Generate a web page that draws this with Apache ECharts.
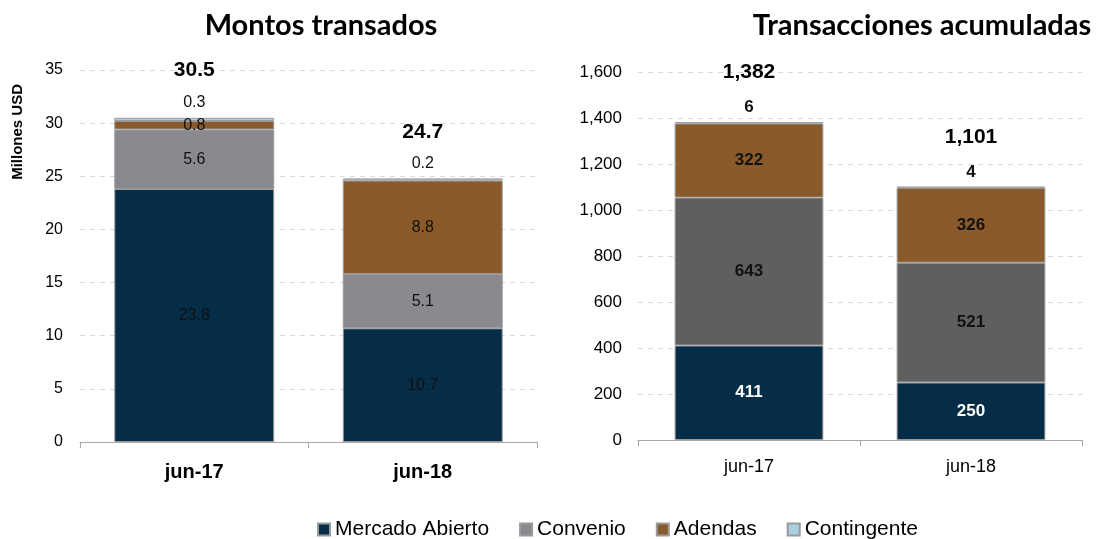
<!DOCTYPE html>
<html>
<head>
<meta charset="utf-8">
<script src="https://cdn.jsdelivr.net/npm/echarts@6/dist/echarts.min.js"></script>
<style>
  html, body { margin: 0; padding: 0; background: #fff; }
  #chart { width: 1103px; height: 539px; }
</style>
</head>
<body>
<div id="chart"></div>
<script>
// data
const categories = ['jun-17', 'jun-18']
const seriesNames = ['Mercado Abierto', 'Convenio', 'Adendas', 'Contingente']

// Montos transados (millones USD)
const montoMercado = [23.8, 10.7]
const montoConvenio = [5.6, 5.1]
const montoAdendas = [0.8, 8.8]
const montoContingente = [0.3, 0.2]
const montoTotal = [30.5, 24.7]

// Transacciones acumuladas
const transMercado = [411, 250]
const transConvenio = [643, 521]
const transAdendas = [322, 326]
const transContingente = [6, 4]
const transTotal = [1382, 1101]

const narrow = '"Liberation Sans Narrow", "Liberation Sans", Arial, sans-serif'
const colors = {
  mercado: '#062d48',
  convenioL: '#8a8a8e',
  convenioR: '#5f5f60',
  adendas: '#8a5a2b',
  contingente: '#a9d0e2',
}

function fmt(v) {
  return v.toLocaleString('en-US')
}

function stackBar(name, data, idx, color, label) {
  return {
    name,
    type: 'bar',
    stack: 's' + idx,
    xAxisIndex: idx,
    yAxisIndex: idx,
    data,
    barWidth: idx === 0 ? '70%' : '67%',
    itemStyle: { color, borderColor: '#9a9a9a', borderWidth: 1 },
    label,
  }
}

const labelL = { show: true, position: 'inside', color: '#111', fontFamily: narrow, fontSize: 16 }
const labelR = { show: true, position: 'inside', color: '#111', fontFamily: narrow, fontSize: 17, fontWeight: 'bold',
  formatter: p => fmt(p.value) }

const chart = echarts.init(document.getElementById('chart'))

chart.setOption({
  animation: false,
  title: [
    { text: 'Montos transados', left: 316, textAlign: 'center', top: 6,
      textStyle: { fontFamily: 'Lato', fontWeight: 'bold', fontSize: 29, color: '#000' } },
    { text: 'Transacciones acumuladas', left: 917, textAlign: 'center', top: 6,
      textStyle: { fontFamily: 'Lato', fontWeight: 'bold', fontSize: 29, color: '#000' } },
  ],
  legend: {
    data: seriesNames,
    top: 514,
    left: 312,
    icon: 'rect',
    itemWidth: 12,
    itemHeight: 12,
    itemGap: 30,
    textStyle: { fontFamily: '"Liberation Sans", Arial, sans-serif', fontSize: 21, color: '#000' },
  },
  graphic: [
    { type: 'text', left: 10, top: 84, rotation: Math.PI / 2,
      style: { text: 'Millones USD', fontFamily: narrow, fontWeight: 'bold', fontSize: 15, fill: '#000' } },
  ],
  grid: [
    { left: 80, right: 566, top: 70, bottom: 97 },
    { left: 638, right: 21, top: 72, bottom: 99 },
  ],
  xAxis: [
    { type: 'category', gridIndex: 0, data: categories,
      axisLine: { lineStyle: { color: '#a6a6a6' } },
      axisTick: { show: true, length: 6, lineStyle: { color: '#a6a6a6' } },
      axisLabel: { fontFamily: narrow, fontWeight: 'bold', fontSize: 20, color: '#000', margin: 20 } },
    { type: 'category', gridIndex: 1, data: categories,
      axisLine: { lineStyle: { color: '#a6a6a6' } },
      axisTick: { show: true, length: 6, lineStyle: { color: '#a6a6a6' } },
      axisLabel: { fontFamily: narrow, fontSize: 18, color: '#000', margin: 18 } },
  ],
  yAxis: [
    { type: 'value', gridIndex: 0, min: 0, max: 35, interval: 5,
      axisLine: { show: false }, axisTick: { show: false },
      splitLine: { lineStyle: { color: '#d9d9d9', type: [5, 5] } },
      axisLabel: { fontFamily: narrow, fontSize: 16, color: '#000', margin: 17 } },
    { type: 'value', gridIndex: 1, min: 0, max: 1600, interval: 200,
      axisLine: { show: false }, axisTick: { show: false },
      splitLine: { lineStyle: { color: '#d9d9d9', type: [5, 5] } },
      axisLabel: { fontFamily: narrow, fontSize: 17, color: '#000', margin: 16, formatter: v => fmt(v) } },
  ],
  series: [
    stackBar('Mercado Abierto', montoMercado, 0, colors.mercado, labelL),
    stackBar('Convenio', montoConvenio, 0, colors.convenioL, labelL),
    stackBar('Adendas', montoAdendas, 0, colors.adendas, labelL),
    stackBar('Contingente', montoContingente, 0, colors.contingente,
      Object.assign({}, labelL, { position: 'top', distance: 7 })),
    { name: 'Total', type: 'bar', xAxisIndex: 0, yAxisIndex: 0, data: montoTotal,
      barWidth: '70%', barGap: '-100%', z: 0, silent: true,
      itemStyle: { color: 'rgba(0,0,0,0)' },
      label: { show: true, position: 'top', distance: 37, fontFamily: narrow, fontWeight: 'bold', fontSize: 21, color: '#000' } },

    stackBar('Mercado Abierto', transMercado, 1, colors.mercado, Object.assign({}, labelR, { color: '#fff' })),
    stackBar('Convenio', transConvenio, 1, colors.convenioR, labelR),
    stackBar('Adendas', transAdendas, 1, colors.adendas, labelR),
    stackBar('Contingente', transContingente, 1, colors.contingente,
      Object.assign({}, labelR, { position: 'top', distance: 6 })),
    { name: 'Total', type: 'bar', xAxisIndex: 1, yAxisIndex: 1, data: transTotal,
      barWidth: '67%', barGap: '-100%', z: 0, silent: true,
      itemStyle: { color: 'rgba(0,0,0,0)' },
      label: { show: true, position: 'top', distance: 39, fontFamily: narrow, fontWeight: 'bold', fontSize: 21, color: '#000',
        formatter: p => fmt(p.value) } },
  ],
})
</script>
</body>
</html>
